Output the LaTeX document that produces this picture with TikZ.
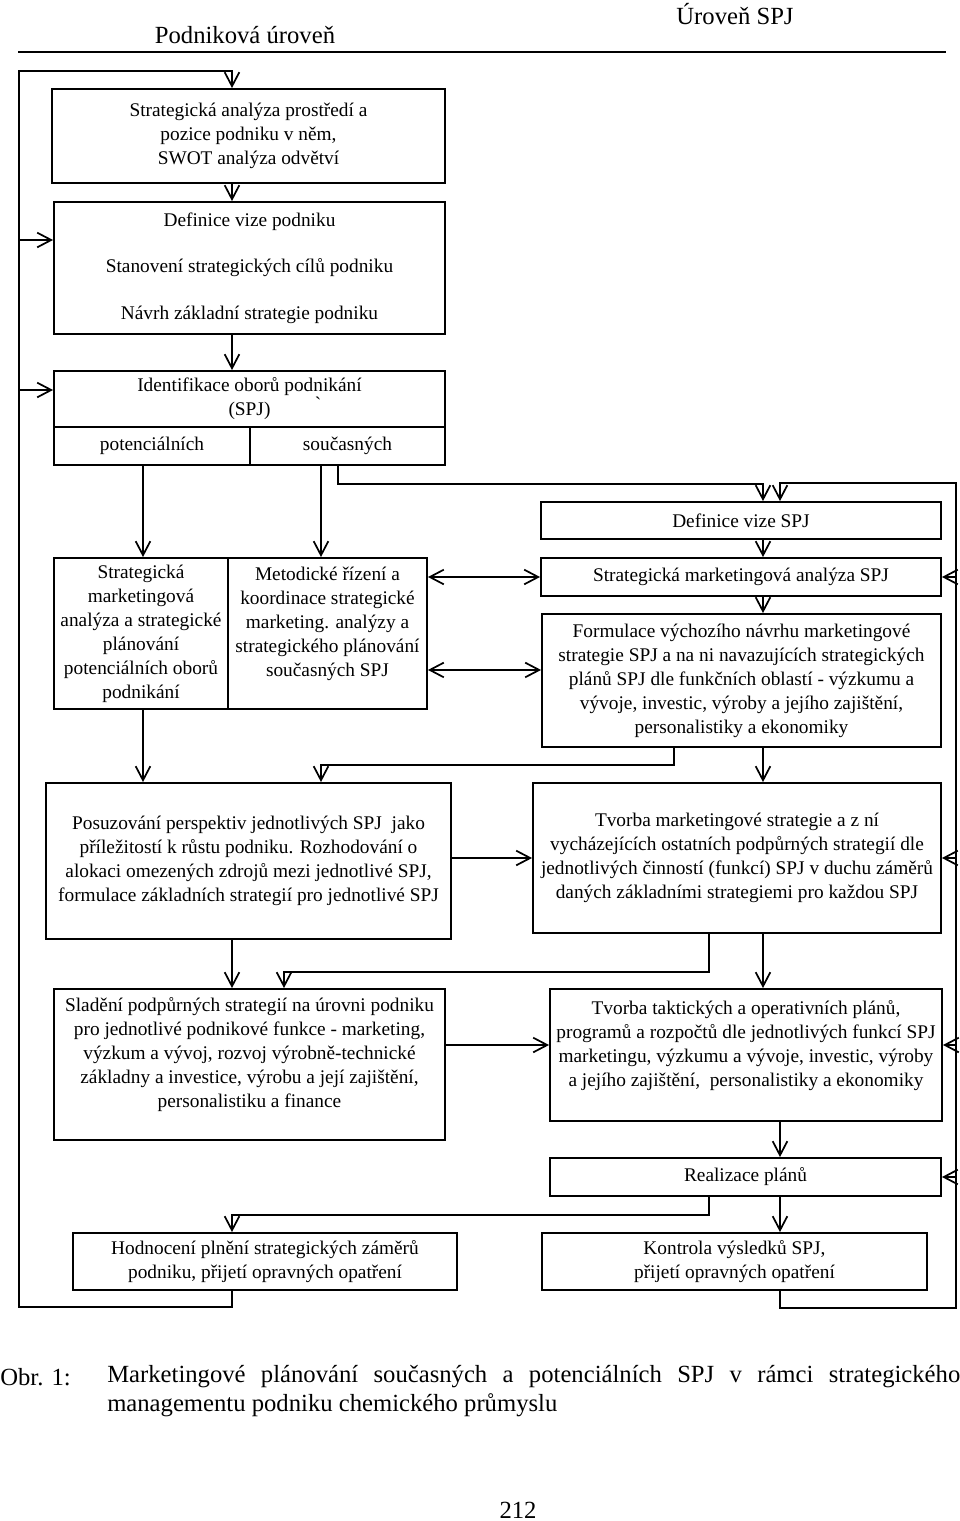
\documentclass[tikz,border=0pt]{standalone}
\usepackage{fontspec}
\setmainfont{Liberation Serif}
\usetikzlibrary{arrows.meta}
\newcommand{\planfont}{\fontsize{14.5}{18}\selectfont}
\newcommand{\capfont}{\fontsize{18.5}{21}\selectfont}
\tikzset{
  planbox/.style={draw, line width=1.4pt, align=center, inner sep=1pt, font=\planfont},
  planarrow/.style={-{Straight Barb[length=10.5pt,width=11pt]}, line width=1.3pt},
  planboth/.style={{Straight Barb[length=10.5pt,width=11pt]}-{Straight Barb[length=10.5pt,width=11pt]}, line width=1.3pt},
  planline/.style={line width=1.4pt},
  planhead/.style={font=\capfont},
}

\begin{document}
\begin{tikzpicture}[x=0.75pt,y=-0.75pt]
  \useasboundingbox (0,0) rectangle (960,1521);
  % column axes and loop corners
  \coordinate (xa) at (232,0);
  \coordinate (xp) at (143,0);
  \coordinate (xs) at (321,0);
  \coordinate (xt) at (338,0);
  \coordinate (xh) at (284,0);
  \coordinate (xm) at (763,0);
  \coordinate (xn) at (780,0);
  \coordinate (xq) at (709,0);
  \coordinate (xf) at (674,0);
  \coordinate (loopLT) at (19,71);
  \coordinate (loopLB) at (19,1307);
  \coordinate (loopRT) at (956,483);
  \coordinate (loopRB) at (956,1308);

  % headings
  \node[planhead] (hpod) at (245,35) {Podniková úroveň};
  \node[planhead] (hspj) at (735,14) {Úroveň SPJ};
  \draw[planline] (18,52) -- (946,52);

  % podnikova uroven
  \node[planbox, minimum width=294.75pt, minimum height=70.5pt] (ana) at (248.5,136)
    {Strategická analýza prostředí a\\pozice podniku v něm,\\SWOT analýza odvětví};
  \node[planbox, minimum width=293.25pt, minimum height=99pt] (viz) at (249.5,268)
    {Definice vize podniku\\[17pt]Stanovení strategických cílů podniku\\[17pt]Návrh základní strategie podniku};
  \node[planbox, minimum width=293.25pt, minimum height=42pt] (ido) at (249.5,399)
    {Identifikace oborů podnikání\\(SPJ)};
  \node[font=\planfont, inner sep=0pt] (tick) at (318,404) {ˋ};
  \node[planbox, minimum width=147pt, minimum height=28.5pt] (pot) at (152,446) {potenciálních};
  \node[planbox, minimum width=146.25pt, minimum height=28.5pt] (sou) at (347.5,446) {současných};
  \node[planbox, minimum width=130.5pt, minimum height=113.25pt] (smp) at (141,633.5)
    {Strategická\\marketingová\\analýza a strategické\\plánování\\potenciálních oborů\\podnikání};
  \node[planbox, minimum width=149.25pt, minimum height=113.25pt] (met) at (327.5,633.5)
    {Metodické řízení a\\koordinace strategické\\marketing. analýzy a\\strategického plánování\\současných SPJ\\\mbox{}};
  \node[planbox, minimum width=303.75pt, minimum height=117pt] (pos) at (248.5,861)
    {Posuzování perspektiv jednotlivých SPJ \ jako\\příležitostí k růstu podniku. Rozhodování o\\alokaci omezených zdrojů mezi jednotlivé SPJ,\\formulace základních strategií pro jednotlivé SPJ};
  \node[planbox, minimum width=293.25pt, minimum height=113.25pt] (sla) at (249.5,1064.5)
    {Sladění podpůrných strategií na úrovni podniku\\pro jednotlivé podnikové funkce - marketing,\\výzkum a vývoj, rozvoj výrobně-technické\\základny a investice, výrobu a její zajištění,\\personalistiku a finance\\\mbox{}};
  \node[planbox, minimum width=288pt, minimum height=42.75pt] (hod) at (265,1261.5)
    {Hodnocení plnění strategických záměrů\\podniku, přijetí opravných opatření};

  % uroven SPJ
  \node[planbox, minimum width=300pt, minimum height=27.75pt] (dvs) at (741,520.5) {Definice vize SPJ};
  \node[planbox, minimum width=300pt, minimum height=28.5pt] (sma) at (741,577) {Strategická marketingová analýza SPJ};
  \node[planbox, minimum width=299.25pt, minimum height=99.75pt] (frm) at (741.5,680.5)
    {Formulace výchozího návrhu marketingové\\strategie SPJ a na ni navazujících strategických\\plánů SPJ dle funkčních oblastí - výzkumu a\\vývoje, investic, výroby a jejího zajištění,\\personalistiky a ekonomiky};
  \node[planbox, minimum width=306pt, minimum height=112.5pt] (tms) at (737,858)
    {Tvorba marketingové strategie a z ní\\vycházejících ostatních podpůrných strategií dle\\jednotlivých činností (funkcí) SPJ v duchu záměrů\\daných základními strategiemi pro každou SPJ};
  \node[planbox, minimum width=294pt, minimum height=99pt] (tak) at (746,1055)
    {Tvorba taktických a operativních plánů,\\programů a rozpočtů dle jednotlivých funkcí SPJ\\marketingu, výzkumu a vývoje, investic, výroby\\a jejího zajištění, \ personalistiky a ekonomiky\\\mbox{}};
  \node[planbox, minimum width=293.25pt, minimum height=28.5pt] (rea) at (745.5,1177) {Realizace plánů};
  \node[planbox, minimum width=288.75pt, minimum height=42.75pt] (kon) at (734.5,1261.5)
    {Kontrola výsledků SPJ,\\přijetí opravných opatření};

  % caption
  \node[planhead, anchor=west, inner sep=0pt] (obr) at (0,1377) {Obr. 1:};
  \node[planhead, anchor=west, inner sep=0pt] (cap1) at (107,1377)
    {\makebox[639.75pt][s]{Marketingové plánování současných a potenciálních SPJ v~rámci strategického}};
  \node[planhead, anchor=west, inner sep=0pt] (cap2) at (107,1405) {managementu podniku chemického průmyslu};
  \node[planhead] (page) at (518,1510) {212};

  % side entry points
  \coordinate (vizIn) at ([yshift=21pt]viz.west);
  \coordinate (idoIn) at ([yshift=6.75pt]ido.west);
  \coordinate (frmIn) at ([yshift=7.9pt]frm.west);
  \coordinate (takIn) at ([yshift=7.5pt]tak.west);
  \coordinate (takRt) at ([yshift=7.5pt]tak.east);

  % connectors, left column
  \draw[planarrow] (hod.south -| xa) |- (loopLB) -- (loopLT) -| (ana.north -| xa);
  \draw[planarrow] (ana.south -| xa) -- (viz.north -| xa);
  \draw[planarrow] (viz.south -| xa) -- (ido.north -| xa);
  \draw[planarrow] (loopLT |- vizIn) -- (vizIn);
  \draw[planarrow] (loopLT |- idoIn) -- (idoIn);
  \draw[planarrow] (pot.south -| xp) -- (smp.north -| xp);
  \draw[planarrow] (sou.south -| xs) -- (met.north -| xs);
  \draw[planarrow] (sou.south -| xt) -- ++(0,18) -| (dvs.north -| xm);
  \draw[planarrow] (smp.south -| xp) -- (pos.north -| xp);
  \draw[planarrow] (frm.south -| xf) -- ++(0,17) -| (pos.north -| xs);
  \draw[planarrow] (pos.south -| xa) -- (sla.north -| xa);
  \draw[planarrow] (tms.south -| xq) -- ++(0,38) -| (sla.north -| xh);
  \draw[planarrow] (rea.south -| xq) -- ++(0,18) -| (hod.north -| xa);

  % connectors, SPJ column
  \draw[planarrow] (kon.south -| xn) |- (loopRB) -- (loopRT) -| (dvs.north -| xn);
  \draw[planarrow] (dvs.south -| xm) -- (sma.north -| xm);
  \draw[planarrow] (sma.south -| xm) -- (frm.north -| xm);
  \draw[planarrow] (frm.south -| xm) -- (tms.north -| xm);
  \draw[planarrow] (tms.south -| xm) -- (tak.north -| xm);
  \draw[planarrow] (tak.south -| xn) -- (rea.north -| xn);
  \draw[planarrow] (rea.south -| xn) -- (kon.north -| xn);
  \draw[planarrow] (loopRT |- sma.east) -- (sma.east);
  \draw[planarrow] (loopRT |- tms.east) -- (tms.east);
  \draw[planarrow] (loopRT |- takRt) -- (takRt);
  \draw[planarrow] (loopRT |- rea.east) -- (rea.east);

  % connectors between levels
  \draw[planboth] (met.east |- sma.west) -- (sma.west);
  \draw[planboth] (met.east |- frmIn) -- (frmIn);
  \draw[planarrow] (pos.east |- tms.west) -- (tms.west);
  \draw[planarrow] (sla.east |- takIn) -- (takIn);
\end{tikzpicture}
\end{document}
